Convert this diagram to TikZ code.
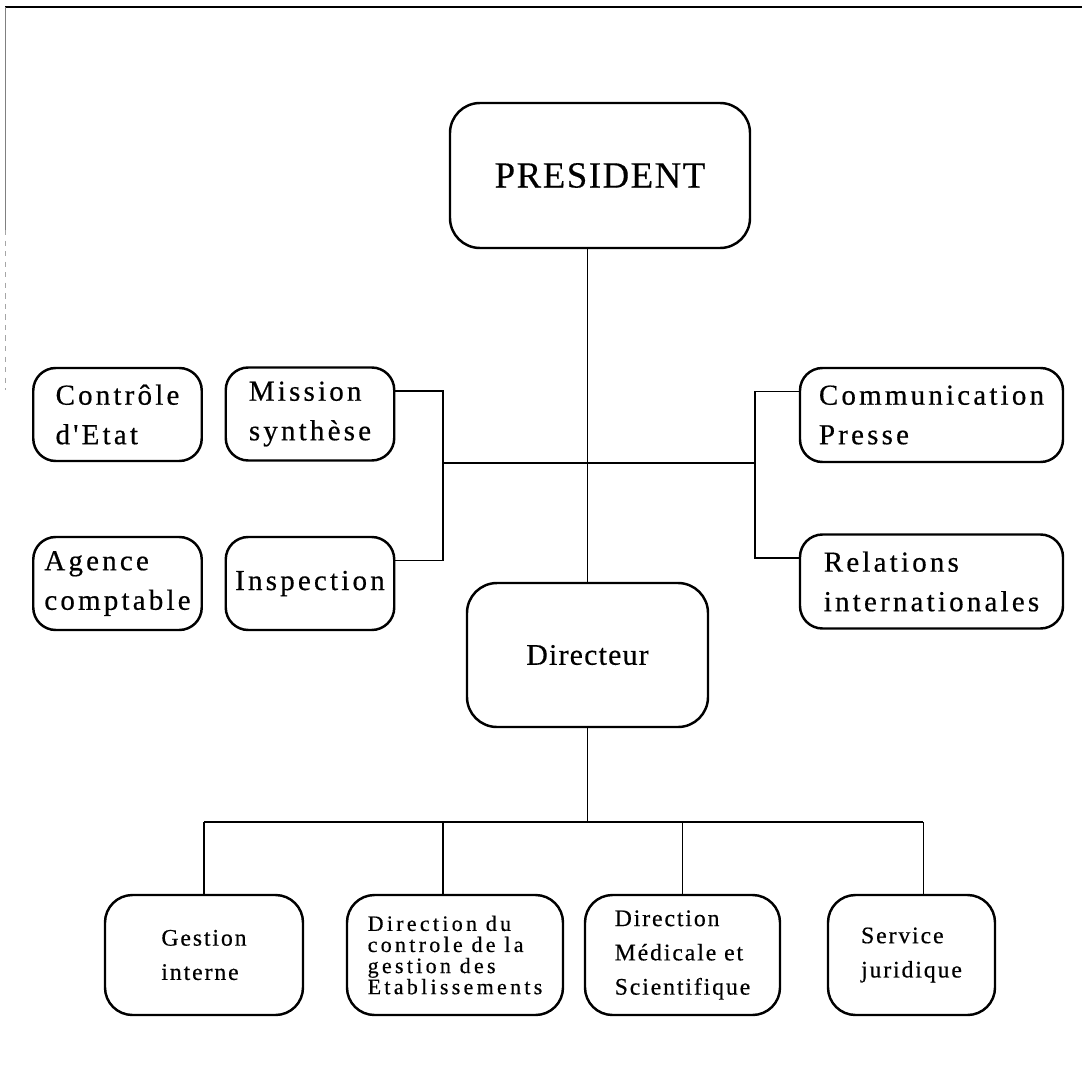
\documentclass[tikz,border=0pt]{standalone}
\usepackage{fontspec}
\setmainfont{Liberation Serif}
\newfontfamily\presfont[LetterSpace=4,FakeBold=0.3]{Liberation Serif}
\newfontfamily\sidefont[LetterSpace=11,FakeBold=0.5]{Liberation Serif}
\newfontfamily\lowfont[LetterSpace=8,FakeBold=0.5]{Liberation Serif}
\newfontfamily\densefont[LetterSpace=15,FakeBold=0.5]{Liberation Serif}
\begin{document}
\begin{tikzpicture}[x=0.2mm,y=-0.2mm,
  box/.style={draw,line width=1.4pt,rounded corners=4.5mm,inner sep=2pt,align=left},
  bigbox/.style={box,rounded corners=6mm},
  sidebox/.style={box,minimum width=33.7mm,minimum height=18.6mm,
    font=\sidefont\fontsize{16.5}{22.5}\selectfont},
  widebox/.style={sidebox,minimum width=52.6mm,minimum height=18.8mm},
  lowbox/.style={box,rounded corners=5.5mm,minimum height=24mm,
    font=\lowfont\fontsize{13.5}{19.5}\selectfont},
  link/.style={line width=0.9pt}]
\useasboundingbox (0,0) rectangle (1082,1084);
% frame remains
\draw[line width=1.2pt] (5,7) -- (1082,7);
\draw[gray,line width=0.4pt] (5,7) -- (5,230);
\draw[gray!70,line width=0.4pt,dashed] (5,230) -- (5,390);
% top of chart
\node[bigbox,minimum width=60mm,minimum height=29mm,font=\presfont\fontsize{21}{25}\selectfont] (pres) at (600,175.5) {PRESIDENT};
\node[bigbox,minimum width=48.2mm,minimum height=28.8mm,font=\presfont\fontsize{17}{20}\selectfont] (dir) at (587.5,655) {Directeur};
% side services
\node[sidebox] (ctrl) at (117.5,414.5) {Contrôle\\d'Etat};
\node[sidebox] (agence) at (117.5,583.5) {Agence\\comptable};
\node[sidebox] (mission) at (310,414) {Mission\\synthèse};
\node[sidebox] (insp) at (310,583.5) {Inspection};
\node[widebox] (comm) at (931.5,415) {Communication\\Presse};
\node[widebox] (rel) at (931.5,581.5) {Relations\\internationales};
% lower directions
\node[lowbox,minimum width=39.6mm] (gest) at (204,955) {Gestion\\interne};
\node[lowbox,minimum width=43.2mm,font=\densefont\fontsize{12.5}{12}\selectfont] (dcg) at (455,955) {Direction du\\controle de la\\gestion des\\Etablissements};
\node[lowbox,minimum width=39mm] (dms) at (682.5,955) {Direction\\Médicale et\\Scientifique};
\node[lowbox,minimum width=33.4mm] (sj) at (911.5,955) {Service\\juridique};
% connectors
\coordinate (lb) at (443,463);
\coordinate (rb) at (755,463);
\coordinate (bus) at (0,822);
\draw[link] (dir.north |- pres.south) -- (dir.north);
\draw[link] (mission.15) -| (lb) |- (insp.15);
\draw[link] (comm.170) -| (rb) |- (rel.170);
\draw[link] (lb) -- (rb);
\draw[link] (dir.south) -- (dir.south |- bus);
\draw[link] (gest.north |- bus) -- (sj.79 |- bus);
\foreach \a in {gest.north,dcg.101,dms.north,sj.79}
  \draw[link] (\a |- bus) -- (\a);
\end{tikzpicture}
\end{document}
